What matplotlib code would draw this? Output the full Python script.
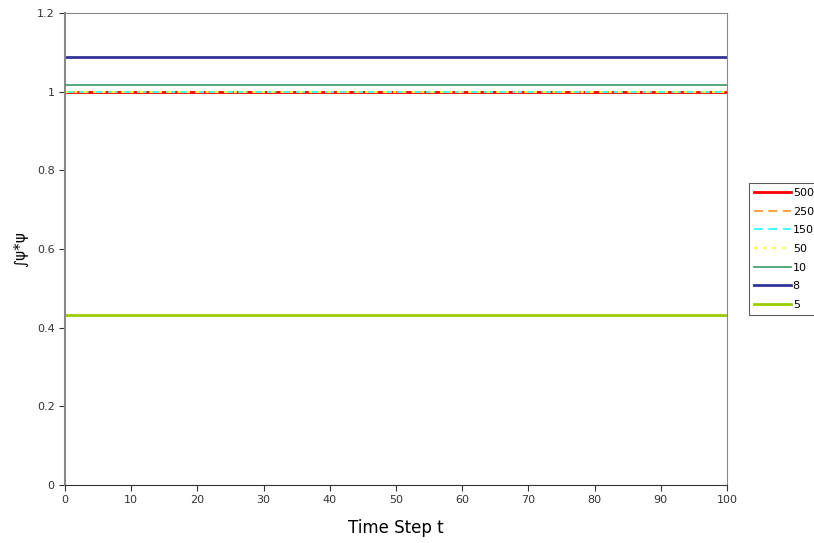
import numpy as np
import matplotlib

matplotlib.use("Agg")
from matplotlib import pyplot as plt

# data
t = np.arange(0, 101)
labels = ["500", "250", "150", "50", "10", "8", "5"]
levels = [0.999, 0.998, 1.0, 1.0, 1.017, 1.087, 0.432]
colors = ["#ff0000", "#ff9933", "#33ffff", "#ffff33", "#339966", "#333399", "#99cc00"]
styles = ["-", (0, (5, 3)), (0, (5, 3)), (0, (1.5, 3)), "-", "-", "-"]
widths = [2.0, 1.3, 1.3, 1.5, 1.2, 2.0, 2.0]

fig = plt.figure(figsize=(8.14, 5.43), dpi=100)
ax = fig.add_axes([65 / 814, 1 - 485 / 543, 662 / 814, 472 / 543])

for lab, lv, c, ls, lw in zip(labels, levels, colors, styles, widths):
    ax.plot(t, np.full(t.shape, lv), color=c, linestyle=ls, linewidth=lw, label=lab)

ax.set_xlim(0, 100)
ax.set_ylim(0, 1.2)
ax.set_xticks(np.arange(0, 101, 10))
ax.set_yticks(np.arange(0, 1.21, 0.2))
ax.set_yticklabels(["0", "0.2", "0.4", "0.6", "0.8", "1", "1.2"])
ax.tick_params(direction="out", length=4, labelsize=8, colors="#333333")
for s in ax.spines.values():
    s.set_color("#888888")
ax.spines["left"].set_linewidth(1.5)
ax.spines["bottom"].set_color("#333333")

ax.set_xlabel("Time Step t", fontsize=12, labelpad=10)
ax.set_ylabel("∫ψ*ψ", fontsize=11, labelpad=6)

leg = ax.legend(loc="center left", bbox_to_anchor=(1.033, 0.5), frameon=True,
                fancybox=False, fontsize=8, handlelength=3.3, handletextpad=0.2,
                labelspacing=0.78, borderpad=0.45, borderaxespad=0)
leg.get_frame().set_edgecolor("#333333")
leg.get_frame().set_linewidth(0.8)

fig.savefig("out.png", dpi=100)
